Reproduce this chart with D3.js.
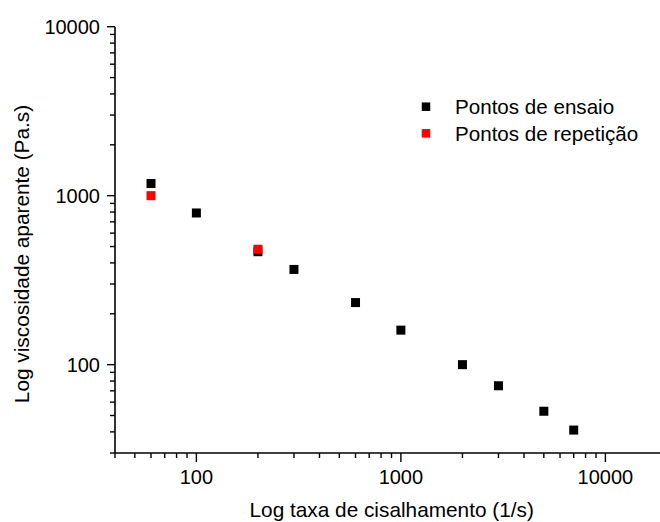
<!DOCTYPE html>
<html>
<head>
<meta charset="utf-8">
<script src="https://cdn.jsdelivr.net/npm/d3@7"></script>
<style>
  html, body { margin: 0; padding: 0; background: #fff; }
  svg { display: block; font-family: "Liberation Sans", Arial, sans-serif; }
</style>
</head>
<body>
<svg id="chart" width="660" height="522"></svg>
<script>
// Shear rate (1/s) and apparent viscosity (Pa.s)
const testShear = [60, 100, 200, 300, 600, 1000, 2000, 3000, 5000, 7000];
const testViscosity = [1180, 790, 466, 366, 233, 160, 100, 75, 53, 41];
const repeatShear = [60, 200];
const repeatViscosity = [1000, 482];

const xTickLabels = [100, 1000, 10000];
const yTickLabels = [100, 1000, 10000];

const seriesNames = ["Pontos de ensaio", "Pontos de repetição"];
const seriesColors = ["#000000", "#ff0000"];

const xTitle = "Log taxa de cisalhamento (1/s)";
const yTitle = "Log viscosidade aparente (Pa.s)";

const svg = d3.select("#chart");
const plotLeft = 115, plotRight = 657.6, plotTop = 26.7, plotBottom = 453;

const x = d3.scaleLog().domain([40, 18000]).range([plotLeft, plotRight]);
const y = d3.scaleLog().domain([30, 10000]).range([plotBottom, plotTop]);

// minor + major ticks for each decade inside the domain
function logTicks(domain) {
  const out = [];
  for (let p = 1; p <= 4; p++) {
    for (let m = 1; m <= 9; m++) {
      const v = m * Math.pow(10, p);
      if (v >= domain[0] - 1e-9 && v <= domain[1] + 1e-9) out.push(v);
    }
  }
  return out;
}
const isMajor = v => Math.abs(Math.log10(v) - Math.round(Math.log10(v))) < 1e-9;

const tickFont = 20;
const titleFont = 20.8;
const legendFont = 20.6;

// X axis
const gx = svg.append("g");
gx.append("line")
  .attr("x1", plotLeft).attr("x2", plotRight + 5)
  .attr("y1", plotBottom).attr("y2", plotBottom)
  .attr("stroke", "#000").attr("stroke-width", 1.6);
gx.selectAll("line.tick").data(logTicks(x.domain())).join("line")
  .attr("class", "tick")
  .attr("x1", d => x(d)).attr("x2", d => x(d))
  .attr("y1", plotBottom).attr("y2", d => plotBottom + (isMajor(d) ? 9 : 5))
  .attr("stroke", "#000").attr("stroke-width", 1.4);
gx.selectAll("text").data(xTickLabels).join("text")
  .attr("x", d => x(d)).attr("y", 483.5)
  .attr("text-anchor", "middle")
  .attr("font-size", tickFont).attr("fill", "#000")
  .text(d => d);

// Y axis
const gy = svg.append("g");
gy.append("line")
  .attr("x1", plotLeft).attr("x2", plotLeft)
  .attr("y1", plotBottom).attr("y2", plotTop)
  .attr("stroke", "#000").attr("stroke-width", 1.6);
gy.selectAll("line.tick").data(logTicks(y.domain())).join("line")
  .attr("class", "tick")
  .attr("x1", plotLeft).attr("x2", d => plotLeft - (isMajor(d) ? 8 : 5))
  .attr("y1", d => y(d)).attr("y2", d => y(d))
  .attr("stroke", "#000").attr("stroke-width", 1.4);
gy.selectAll("text").data(yTickLabels).join("text")
  .attr("x", 100).attr("y", d => y(d) + 7.2)
  .attr("text-anchor", "end")
  .attr("font-size", tickFont).attr("fill", "#000")
  .text(d => d);

// Axis titles
svg.append("text")
  .attr("x", 249.5).attr("y", 517.3)
  .attr("text-anchor", "start")
  .attr("font-size", titleFont).attr("fill", "#000")
  .text(xTitle);
svg.append("text")
  .attr("transform", "translate(28.5,254) rotate(-90)")
  .attr("text-anchor", "middle")
  .attr("font-size", titleFont).attr("fill", "#000")
  .text(yTitle);

// Data markers
const size = 9;
const testPts = testShear.map((s, i) => ({ s, v: testViscosity[i] }));
const repPts = repeatShear.map((s, i) => ({ s, v: repeatViscosity[i] }));

svg.append("g").selectAll("rect").data(testPts).join("rect")
  .attr("x", d => x(d.s) - size / 2).attr("y", d => y(d.v) - size / 2)
  .attr("width", size).attr("height", size)
  .attr("fill", seriesColors[0]);
svg.append("g").selectAll("rect").data(repPts).join("rect")
  .attr("x", d => x(d.s) - size / 2).attr("y", d => y(d.v) - size / 2)
  .attr("width", size).attr("height", size)
  .attr("fill", seriesColors[1]);

// Legend
const legend = svg.append("g");
const legendRows = [106.7, 133.3];
seriesNames.forEach((name, i) => {
  legend.append("rect")
    .attr("x", 426 - 4.25).attr("y", legendRows[i] - 4.25)
    .attr("width", 8.5).attr("height", 8.5)
    .attr("fill", seriesColors[i]);
  legend.append("text")
    .attr("x", 455).attr("y", legendRows[i] + 7.6)
    .attr("font-size", legendFont).attr("fill", "#000")
    .text(name);
});
</script>
</body>
</html>
